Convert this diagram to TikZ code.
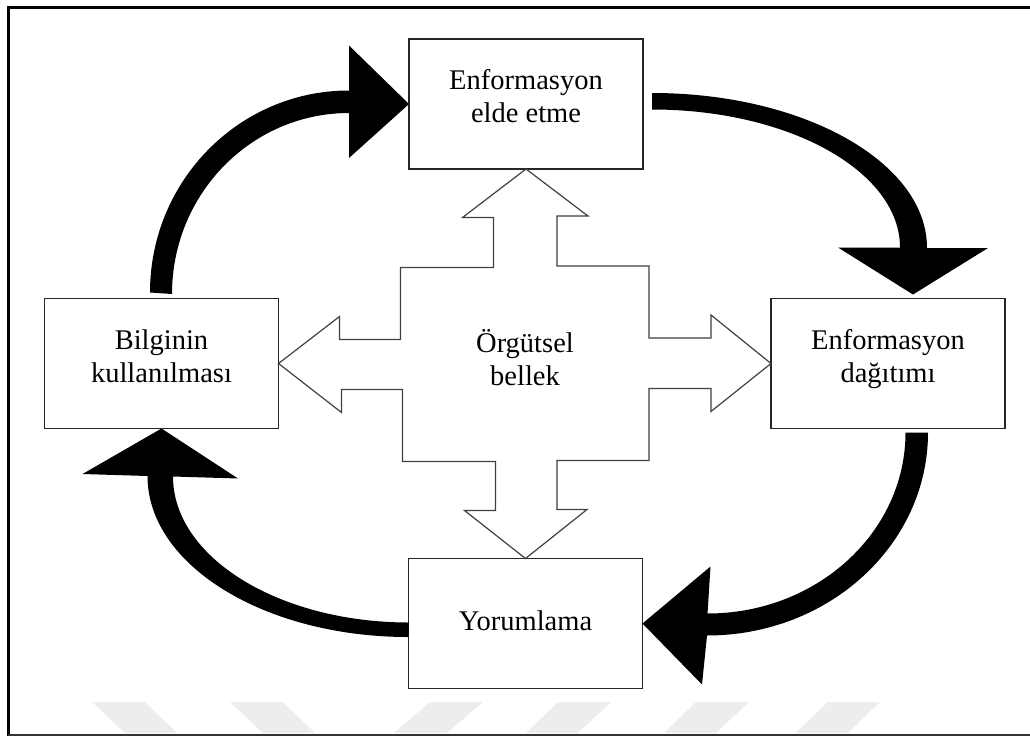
\documentclass[tikz,border=0pt]{standalone}
\usepackage{fontspec}
\setmainfont{Liberation Serif}
\usetikzlibrary{calc}
\definecolor{boxline}{HTML}{262626}
\definecolor{starline}{HTML}{404040}
\definecolor{markgray}{HTML}{EDEDED}
\definecolor{framebottom}{HTML}{333333}
\begin{document}
\begin{tikzpicture}[x=1pt, y=-1pt,
  label font/.style={font=\fontsize{28.5}{33}\selectfont},
  box/.style={draw=boxline, line width=1.6pt, fill=white,
    minimum width=234pt, minimum height=130pt,
    inner sep=0pt, outer sep=0pt, align=center, label font,
    text depth=14.5pt},
  flow/.style={fill=black},
  memory/.style={draw=starline, line width=1.2pt, line join=miter, fill=white},
  chevron/.style={fill=markgray}
]
\useasboundingbox (0,0) rectangle (1030,736);

% faint chevrons along the bottom edge
\fill[chevron] (92,702) -- (145,702) -- (177,733) -- (125,733) -- cycle;
\fill[chevron] (230,702) -- (283,702) -- (315,733) -- (263,733) -- cycle;
\fill[chevron] (430,702) -- (483,702) -- (447,733) -- (394,733) -- cycle;
\fill[chevron] (558,702) -- (611,702) -- (578,733) -- (526,733) -- cycle;
\fill[chevron] (696,702) -- (749,702) -- (716,733) -- (664,733) -- cycle;
\fill[chevron] (828,702) -- (880,702) -- (848,733) -- (795,733) -- cycle;

% outer frame
\draw[line width=3.6pt] (8.3,736) -- (8.3,7.3) -- (1030,7.3);
\draw[line width=2pt, framebottom] (8,734.8) -- (1030,734.8);

% the four stages
\node[box, text depth=17pt] (T) at (526,104) {Enformasyon\\elde etme};
\node[box] (L) at (161.5,363.5) {Bilginin\\kullanılması};
\node[box] (R) at (888,363.5) {Enformasyon\\dağıtımı};
\node[box, text depth=6.5pt] (B) at (525.5,623.5) {Yorumlama};

% cycle arrows
\fill[flow] ($(L.north)+(-11.5,-6)$)
  arc[start angle=180, end angle=270, x radius=199, y radius=202]
  -- ++(0,-45) -- (T.west) -- ++(-60,54) -- ++(0,-45)
  arc[start angle=270, end angle=180, x radius=177, y radius=181] -- cycle;
\fill[flow] ($(T.east)+(9,-11)$)
  arc[start angle=270, end angle=360, x radius=275, y radius=155]
  -- ++(61,0) -- ($(R.north)+(25,-4)$) -- ++(-75,-47) -- ++(62,0)
  arc[start angle=0, end angle=-90, x radius=248, y radius=138] -- cycle;
\fill[flow] ($(R.south)+(40,4)$)
  arc[start angle=0, end angle=90, x radius=221, y radius=203]
  -- ++(-5,49) -- (B.east) -- ++(68,-57) -- ++(-3,47)
  arc[start angle=90, end angle=0, x radius=198, y radius=181] -- cycle;
\fill[flow] ($(B.west)+(0,13.5)$)
  arc[start angle=90, end angle=180, x radius=261, y radius=161]
  -- ++(-65,-2) -- (L.south) -- ++(76.5,50) -- ++(-65,-2)
  arc[start angle=180, end angle=90, x radius=236, y radius=146] -- cycle;

% organisational memory: four-way block arrow
\draw[memory] (T.south) -- ++(62,47) -- ++(-31,0) -- ++(0,50) -- ++(92,0)
  -- ++(0,72) -- ++(62,0) -- ++(0,-23) -- (R.west)
  -- ++(-60,48) -- ++(0,-23) -- ++(-62,0) -- ++(0,72) -- ++(-92,0)
  -- ++(0,49) -- ++(30,0) -- (B.north)
  -- ++(-61,-48) -- ++(31,0) -- ++(0,-49) -- ++(-93,0) -- ++(0,-72)
  -- ++(-61,0) -- ++(0,23) -- (L.east)
  -- ++(61,-47) -- ++(0,23) -- ++(61,0) -- ++(0,-72) -- ++(93,0)
  -- ++(0,-50) -- ++(-31,0) -- cycle;
\node[label font, align=center, text depth=0pt] (M) at (525,357) {Örgütsel\\bellek};
\end{tikzpicture}
\end{document}
